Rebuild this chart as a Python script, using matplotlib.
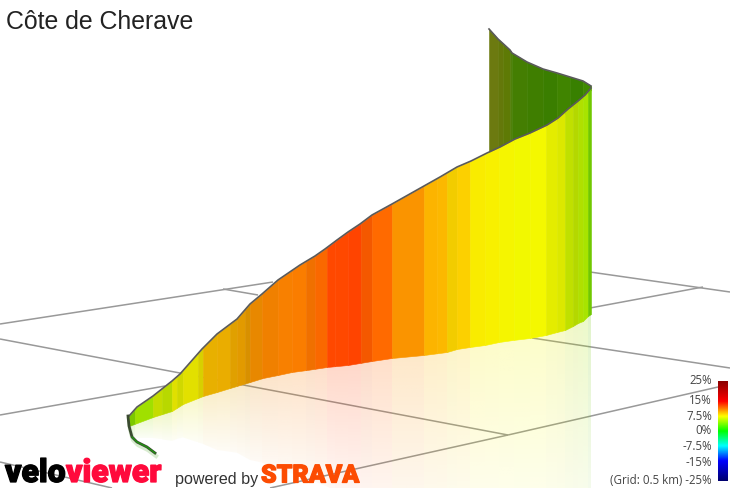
import numpy as np
import matplotlib
matplotlib.use('Agg')
import matplotlib.pyplot as plt
import matplotlib.patheffects as pe
from matplotlib.colors import LinearSegmentedColormap, to_rgb
from matplotlib.patches import Polygon

seg_edges = [129, 135, 153, 162, 172, 177, 183, 198, 203, 217, 230, 237, 245, 250, 262,
             278, 292, 306, 315, 327, 335, 348, 361, 372, 392, 424, 437, 447, 457, 470,
             485, 499, 514, 530, 546, 557, 565, 573, 578, 583, 588, 591]
seg_colors = ['#7cc800', '#a0e000', '#c4dc00', '#b8d800', '#e0e000', '#d0d800', '#e2e000',
              '#d8d000', '#e8b000', '#eaad00', '#e0a000', '#e29a00', '#d89000', '#e88800',
              '#f08000', '#f88000', '#fa7d00', '#f07000', '#fa6800', '#ff4800', '#ff4800',
              '#ff4400', '#f45800', '#ff6a00', '#fa9400', '#fcb400', '#fcb800', '#f2cc00',
              '#fcd000', '#f9ec00', '#f8f000', '#f5f500', '#f2f800', '#f4f800', '#e4ec00',
              '#dce800', '#c0e000', '#b4d800', '#b0e000', '#a8e400', '#70c800']

top_x = [129, 137, 153, 172, 180, 202, 217, 237, 250, 262, 278, 300, 315, 325, 337, 348,
         360, 372, 392, 424, 440, 457, 471, 487, 500, 515, 530, 547, 558, 568, 578, 585, 591]
top_y = [417, 408, 397, 382, 375, 350, 335, 320, 305, 295, 281, 266, 257, 250, 241, 233,
         225, 216, 205, 187, 178, 168, 162, 154, 148, 140, 134, 126, 119, 110, 102, 96, 89]

bot_x = [129, 153, 172, 183, 203, 217, 230, 250, 263, 278, 292, 307, 327, 348, 372, 392,
         424, 447, 457, 470, 485, 499, 513, 530, 546, 557, 565, 573, 578, 583, 588, 591]
bot_y = [427, 418, 412, 405, 397, 393, 389, 383, 379, 376, 373, 371, 368, 366, 362, 359,
         356, 353, 350, 348, 346, 343, 341, 339, 336, 333, 331, 327, 324, 322, 317, 315]

back_x = [489, 498, 510, 512, 527, 543, 557, 570, 583, 591]
back_y = [30, 40, 51, 54, 63, 70, 74, 78, 82, 87]
back_edges = [489, 498, 503, 510, 512, 527, 543, 557, 570, 583, 591]
back_colors = ['#6c7a10', '#64780a', '#5e7a05', '#50800a', '#447e02', '#3f7e00', '#3a7e00',
               '#408400', '#388000', '#3f8a00']

tail_x = [128, 129, 132, 137, 147, 155]
tail_y = [417, 427, 438, 443, 448, 454]

grid_lines = [([0, 273], [325, 283]), ([0, 508], [340, 436]), ([0, 165], [416, 387]),
              ([223, 258], [290, 296]), ([508, 718], [436, 388]), ([270, 508], [489, 436]),
              ([0, 112], [463, 489]), ([590, 730], [273, 293]), ([590, 703], [309, 288]),
              ([532, 730], [339, 369])]

scale_labels = ['25%', '15%', '7.5%', '0%', '-7.5%', '-15%', '(Grid: 0.5 km) -25%']
scale_label_y = [381, 401, 416, 431, 446, 462, 481]
scale_values = [-25, -15, -7.5, 0, 7.5, 15, 25]
scale_colors = ['#00006e', '#0000ff', '#00ffff', '#00ff00', '#ffff00', '#ff0000', '#8b0000']


def between(x_a, x_b, xs):
    # profile points that fall inside one segment, plus its two ends
    inner = [v for v in xs if x_a < v < x_b]
    return np.array([x_a] + inner + [x_b], dtype=float)


fig = plt.figure(figsize=(7.3, 4.89), dpi=100)
ax = fig.add_axes([0, 0, 1, 1])
ax.set_xlim(0, 730)
ax.set_ylim(489, 0)
ax.axis('off')

for xs, ys in grid_lines:
    ax.plot(xs, ys, color='#999999', lw=1.1, zorder=1, solid_capstyle='butt')

# reflection on the ground, fades away from the foot of the wall
for i, col in enumerate(seg_colors):
    x0, x1 = seg_edges[i], seg_edges[i + 1]
    b0, b1 = np.interp([x0, x1], bot_x, bot_y)
    t0, t1 = np.interp([x0, x1], top_x, top_y)
    low0, low1 = b0 + (b0 - t0), b1 + (b1 - t1)
    y_start, y_end = min(b0, b1), max(low0, low1)
    fade = np.zeros((60, 1, 4))
    fade[:, :, :3] = to_rgb(col)
    fade[:, 0, 3] = np.linspace(0.21, 0.04, 60)
    im = ax.imshow(fade, extent=[x0, x1, y_end, y_start], aspect='auto', zorder=2,
                   interpolation='bilinear')
    clip = Polygon([(x0, b0), (x1, b1), (x1, low1), (x0, low0)], transform=ax.transData)
    im.set_clip_path(clip)
ax.set_xlim(0, 730)
ax.set_ylim(489, 0)

# far side of the climb, only down to where the front wall covers it
for i, col in enumerate(back_colors):
    x_s = between(back_edges[i], back_edges[i + 1], back_x)
    ax.fill_between(x_s, np.interp(x_s, back_x, back_y), np.interp(x_s, top_x, top_y) + 2,
                    facecolor=col, edgecolor=col, lw=0.4, zorder=3)
ax.plot(back_x, back_y, color='#5a5a5a', lw=1.2, zorder=4)

# front wall
for i, col in enumerate(seg_colors):
    x_s = between(seg_edges[i], seg_edges[i + 1], top_x + bot_x)
    ax.fill_between(x_s, np.interp(x_s, bot_x, bot_y), np.interp(x_s, top_x, top_y),
                    facecolor=col, edgecolor=col, lw=0.4, zorder=5)
ax.plot(top_x, top_y, color='#5a5a5a', lw=1.2, zorder=6)

# start of the climb
ax.plot(np.array(tail_x) + 1, np.array(tail_y) + 3, color='#d8ecd0', lw=3, zorder=4)
ax.plot(tail_x, tail_y, color='#3a4a30', lw=2.0, zorder=6)
ax.plot(tail_x[2:], tail_y[2:], color='#1f9a10', lw=0.9, zorder=7)

ax.text(6, 29, 'Côte de Cherave', fontsize=17.9, family='Liberation Sans', color='#222222',
        va='baseline', ha='left')

# grade scale
cmap = LinearSegmentedColormap.from_list(
    'grade', [((v + 25) / 50, c) for v, c in zip(scale_values, scale_colors)])
grad = np.linspace(1, 0, 200).reshape(-1, 1)
ax.imshow(grad, cmap=cmap, vmin=0, vmax=1, extent=[718, 728, 482, 382], aspect='auto', zorder=8)
ax.set_xlim(0, 730)
ax.set_ylim(489, 0)
for lab, y in zip(scale_labels, scale_label_y):
    ax.text(712, y, lab, fontsize=8.3, family='Open Sans', color='#444444',
            ha='right', va='center', zorder=9)

# logos
heavy_black = [pe.withStroke(linewidth=0.9, foreground='black')]
heavy_red = [pe.withStroke(linewidth=0.9, foreground='#ff0a3c')]
heavy_orange = [pe.withStroke(linewidth=0.9, foreground='#fc4c02')]
ax.text(5, 483, 'velo', fontsize=23, family='Roboto', fontweight='black', color='black',
        va='baseline', ha='left', zorder=9, path_effects=heavy_black)
ax.text(66, 483, 'viewer', fontsize=23, family='Roboto', fontweight='black', color='#ff0a3c',
        va='baseline', ha='left', zorder=9, path_effects=heavy_red)
ax.text(175, 484, 'powered by', fontsize=11.6, family='Liberation Sans', color='#333333',
        va='baseline', ha='left', zorder=9)
ax.text(261, 483.5, 'STRAVA', fontsize=18, family='Roboto', fontweight='black', color='#fc4c02',
        va='baseline', ha='left', zorder=9, path_effects=heavy_orange)

fig.savefig('out.png', dpi=100)
plt.close()
